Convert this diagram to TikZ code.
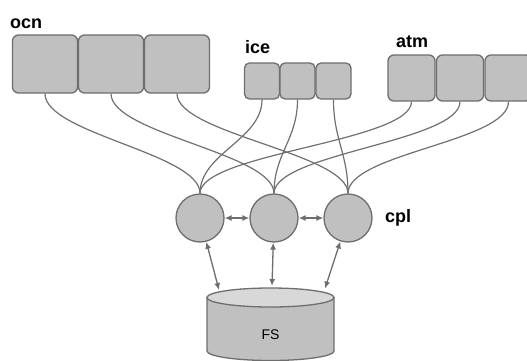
\documentclass[tikz,border=0pt]{standalone}
\usepackage{fontspec}
\setmainfont{Liberation Sans}
\usetikzlibrary{arrows.meta}
\definecolor{boxfill}{HTML}{C0C0C0}
\definecolor{boxline}{HTML}{6E6E6E}
\definecolor{topfill}{HTML}{D8D8D8}
\definecolor{wirecol}{HTML}{707070}
\begin{document}
\begin{tikzpicture}[x=1pt,y=-1pt,
  comp/.style={draw=boxline, fill=boxfill, line width=1.3pt, rounded corners=6pt, inner sep=0pt},
  cplnode/.style={circle, draw=boxline, fill=boxfill, line width=1.3pt, minimum size=48pt, inner sep=0pt},
  lab/.style={font=\fontsize{18}{18}\selectfont\bfseries, anchor=base west, inner sep=0pt},
  wire/.style={draw=wirecol, line width=1.2pt},
  arr/.style={{Latex[length=7pt,width=6pt]}-{Latex[length=7pt,width=6pt]}, draw=boxline, fill=boxline, line width=1.3pt}
]
\useasboundingbox (0,0) rectangle (527,361);

% labels
\node[lab] (ocnlab) at (10,29) {ocn};
\node[lab] (icelab) at (245,53) {ice};
\node[lab] (atmlab) at (396,47.5) {atm};
\node[lab] (cpllab) at (385,222) {cpl};

% component boxes
\node[comp, minimum width=65pt, minimum height=58pt] (o1) at (45,64) {};
\node[comp, minimum width=65pt, minimum height=58pt] (o2) at (111,64) {};
\node[comp, minimum width=65pt, minimum height=58pt] (o3) at (177,64) {};

\node[comp, minimum width=35pt, minimum height=36pt, rounded corners=5pt] (i1) at (262,81) {};
\node[comp, minimum width=35pt, minimum height=36pt, rounded corners=5pt] (i2) at (297.5,81) {};
\node[comp, minimum width=35pt, minimum height=36pt, rounded corners=5pt] (i3) at (333.5,81) {};

\node[comp, minimum width=47pt, minimum height=46pt] (a1) at (411.5,78) {};
\node[comp, minimum width=47pt, minimum height=46pt] (a2) at (460,78) {};
\node[comp, minimum width=47pt, minimum height=46pt] (a3) at (508.5,78) {};

% coupler circles
\node[cplnode] (c1) at (200,218) {};
\node[cplnode] (c2) at (274,218) {};
\node[cplnode] (c3) at (348,218) {};

% wires
\foreach \s/\t in {o1/c1,o2/c2,o3/c3,i1/c1,i2/c2,i3/c3,a1/c1,a2/c2,a3/c3}{
  \draw[wire] (\s.south) .. controls +(0,40) and +(0,-40) .. (\t.north);
}

% file system cylinder
\path[fill=boxfill, draw=boxline, line width=1.3pt]
  (207,297.5) -- (207,351) arc[start angle=180, end angle=360, x radius=63.5pt, y radius=9.5pt] -- (334,297.5) -- cycle;
\path[fill=topfill, draw=boxline, line width=1.3pt] (270.5,297.5) ellipse [x radius=63.5pt, y radius=9.5pt];
\node[font=\fontsize{14}{14}\selectfont] (fs) at (270.5,335) {FS};
\coordinate (fsa) at (219,290);
\coordinate (fsb) at (272,286);
\coordinate (fsc) at (325,288.5);

% arrows
\draw[arr] (c1) -- (c2);
\draw[arr] (c2) -- (c3);
\draw[arr] (c1) -- (fsa);
\draw[arr] (c2) -- (fsb);
\draw[arr] (c3) -- (fsc);
\end{tikzpicture}
\end{document}
